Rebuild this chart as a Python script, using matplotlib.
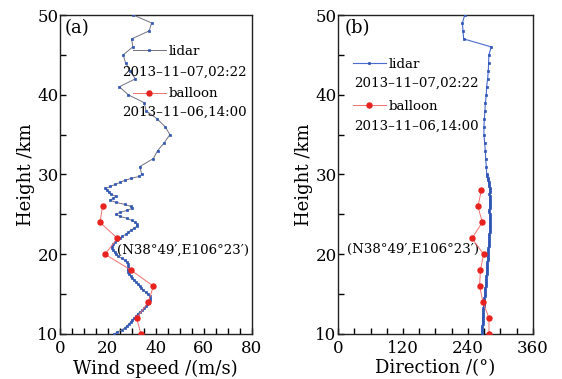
import numpy as np
import matplotlib
matplotlib.use("Agg")
import matplotlib.pyplot as plt
from matplotlib.ticker import MultipleLocator

plt.rcParams['font.family'] = ['DejaVu Serif', 'DejaVu Sans']
plt.rcParams['mathtext.fontset'] = 'dejavuserif'

# ---------------- data ----------------
# lidar, sparse part (km, m/s)
lidar_h_upper = [30, 31, 32, 33, 34, 35, 36, 37, 38, 39, 40, 41, 42, 43, 44, 45, 46, 47, 48, 49, 50]
lidar_ws_upper = [34.1, 33.4, 39.0, 40.8, 43.6, 45.9, 43.9, 40.5, 35.9, 35.2, 28.5, 24.8, 31.5, 29.2,
                  27.4, 26.4, 30.4, 29.9, 37.2, 38.3, 30.6]
lidar_dir_upper = [274.5, 273.8, 272.6, 272.0, 270.7, 269.4, 269.4, 270.2, 271.3, 272.0, 273.8, 274.4,
                   276.2, 277.5, 278.0, 278.6, 283.0, 232.0, 230.8, 229.6, 233.9]

# lidar, dense part 10 - 29.75 km every 0.25 km
lidar_h_lower = [10.0, 10.25, 10.5, 10.75, 11.0, 11.25, 11.5, 11.75, 12.0, 12.25, 12.5, 12.75,
                 13.0, 13.25, 13.5, 13.75, 14.0, 14.25, 14.5, 14.75, 15.0, 15.25, 15.5, 15.75,
                 16.0, 16.25, 16.5, 16.75, 17.0, 17.25, 17.5, 17.75, 18.0, 18.25, 18.5, 18.75,
                 19.0, 19.25, 19.5, 19.75, 20.0, 20.25, 20.5, 20.75, 21.0, 21.25, 21.5, 21.75,
                 22.0, 22.25, 22.5, 22.75, 23.0, 23.25, 23.5, 23.75, 24.0, 24.25, 24.5, 24.75,
                 25.0, 25.25, 25.5, 25.75, 26.0, 26.25, 26.5, 26.75, 27.0, 27.25, 27.5, 27.75,
                 28.0, 28.25, 28.5, 28.75, 29.0, 29.25, 29.5, 29.75]
lidar_ws_lower = [22.5, 24.0, 25.7, 27.0, 27.9, 28.8, 29.5, 30.2, 31.0, 31.9, 32.4, 33.4,
                  34.4, 35.2, 35.9, 36.4, 36.9, 37.4, 37.6, 37.4, 36.8, 35.8, 34.8, 34.0,
                  33.3, 32.6, 31.8, 31.0, 30.2, 29.6, 29.0, 28.5, 28.3, 28.3, 28.5, 28.5,
                  28.0, 27.0, 25.8, 24.4, 23.3, 22.8, 22.3, 21.8, 21.6, 22.3, 23.0, 24.0,
                  25.0, 26.0, 27.5, 28.5, 29.5, 31.0, 32.0, 32.0, 31.5, 30.0, 28.0, 25.0,
                  23.5, 25.0, 28.0, 30.0, 29.5, 27.0, 23.5, 21.0, 22.0, 23.5, 21.5, 20.5,
                  19.8, 19.0, 21.0, 23.0, 25.0, 27.0, 29.5, 33.0]
lidar_dir_lower = [265.5, 265.8, 266.0, 266.3, 266.5, 266.8, 267.0, 267.2, 267.4, 267.6, 267.8, 268.0,
                   268.2, 268.5, 268.8, 269.0, 269.3, 269.7, 270.1, 270.5, 270.8, 271.2, 271.6, 272.0,
                   272.4, 272.7, 273.0, 273.4, 273.7, 274.0, 274.3, 274.6, 274.9, 275.2, 275.4, 275.7,
                   276.0, 276.3, 276.5, 276.8, 277.0, 277.2, 277.5, 277.8, 278.0, 278.4, 278.8, 279.0,
                   279.3, 279.6, 279.4, 279.9, 280.2, 280.0, 279.7, 280.3, 280.5, 280.1, 279.8, 280.4,
                   280.6, 279.5, 278.9, 279.8, 280.2, 280.0, 279.8, 280.1, 280.3, 280.0, 279.6, 279.9,
                   280.1, 279.7, 279.2, 278.6, 278.0, 277.2, 276.3, 275.2]

lidar_h = lidar_h_lower + lidar_h_upper
lidar_ws = lidar_ws_lower + lidar_ws_upper
lidar_dir = lidar_dir_lower + lidar_dir_upper

# balloon
balloon_h_ws = [10, 12, 14, 16, 18, 20, 22, 24, 26]
balloon_ws = [33.8, 32.0, 36.9, 39.0, 29.7, 18.8, 24.0, 16.7, 17.8]
balloon_h_dir = [10, 12, 14, 16, 18, 20, 22, 24, 26, 28]
balloon_dir = [278.7, 278.7, 267.6, 261.5, 262.8, 268.9, 247.4, 266.4, 258.4, 264.6]

lidar_label = "lidar"
balloon_label = "balloon"
lidar_time = "2013\u201311\u201307,02:22"
balloon_time = "2013\u201311\u201306,14:00"
site = "(N38\u00b049\u2032,E106\u00b023\u2032)"

# ---------------- figure ----------------
W, H = 562, 379
fig = plt.figure(figsize=(W / 100, H / 100), dpi=100)
fig.patch.set_facecolor('white')

ax1 = fig.add_axes([60 / W, (H - 334) / H, 191.5 / W, 319 / H])
ax2 = fig.add_axes([338 / W, (H - 334) / H, 195 / W, 319 / H])

blue = '#2f55b5'
red = '#e8221e'
lred = '#f07070'

FS_TICK = 12
FS_LAB = 13
FS_TXT = 9.6

# left panel
ax1.plot(lidar_ws, lidar_h, '-', color='#707080', lw=0.7, marker='s', ms=2.1,
         mfc=blue, mec=blue, mew=0.5, label=lidar_label, zorder=3)
ax1.plot(balloon_ws, balloon_h_ws, '-', color=lred, lw=0.7, marker='o', ms=3.6,
         mfc=red, mec=red, label=balloon_label, zorder=4)
ax1.set_xlim(0, 80)
ax1.set_ylim(10, 50)
ax1.xaxis.set_major_locator(MultipleLocator(20))
ax1.xaxis.set_minor_locator(MultipleLocator(5))
ax1.set_xlabel("Wind speed /(m/s)", fontsize=FS_LAB, labelpad=2)

# right panel
ax2.plot(lidar_dir, lidar_h, '-', color='#4a6ad0', lw=0.8, marker='s', ms=2.1,
         mfc=blue, mec=blue, mew=0.5, label=lidar_label, zorder=3)
ax2.plot(balloon_dir, balloon_h_dir, '-', color=lred, lw=0.7, marker='o', ms=3.6,
         mfc=red, mec=red, label=balloon_label, zorder=4)
ax2.set_xlim(0, 360)
ax2.set_ylim(10, 50)
ax2.xaxis.set_major_locator(MultipleLocator(120))
ax2.xaxis.set_minor_locator(MultipleLocator(30))
ax2.set_xlabel("Direction /(\u00b0)", fontsize=FS_LAB, labelpad=2)

for ax in (ax1, ax2):
    ax.yaxis.set_major_locator(MultipleLocator(10))
    ax.yaxis.set_minor_locator(MultipleLocator(5))
    ax.set_ylabel("Height /km", fontsize=FS_LAB, labelpad=2)
    ax.tick_params(which='both', direction='in', length=4.5, width=1.0,
                   top=False, right=False, labelsize=FS_TICK)
    ax.tick_params(axis='x', pad=4)
    ax.tick_params(axis='y', pad=1)
    for s in ax.spines.values():
        s.set_linewidth(1.0)
        s.set_color('#222222')

# legends
leg1 = ax1.legend(loc='upper left', bbox_to_anchor=(0.38, 0.906), frameon=False,
                  fontsize=FS_TXT, handlelength=2.5, handletextpad=0.2,
                  labelspacing=2.2, borderpad=0, borderaxespad=0)
leg2 = ax2.legend(loc='upper left', bbox_to_anchor=(0.075, 0.866), frameon=False,
                  fontsize=FS_TXT, handlelength=2.5, handletextpad=0.2,
                  labelspacing=2.2, borderpad=0, borderaxespad=0)

ax1.text(0.327, 0.822, lidar_time, transform=ax1.transAxes, fontsize=FS_TXT, va='center')
ax1.text(0.327, 0.694, balloon_time, transform=ax1.transAxes, fontsize=FS_TXT, va='center')
ax2.text(0.082, 0.786, lidar_time, transform=ax2.transAxes, fontsize=FS_TXT, va='center')
ax2.text(0.082, 0.650, balloon_time, transform=ax2.transAxes, fontsize=FS_TXT, va='center')

ax1.text(0.026, 0.959, "(a)", transform=ax1.transAxes, fontsize=FS_LAB, va='center')
ax2.text(0.036, 0.959, "(b)", transform=ax2.transAxes, fontsize=FS_LAB, va='center')

ax1.text(0.30, 0.262, site, transform=ax1.transAxes, fontsize=FS_TXT, va='center')
ax2.text(0.045, 0.266, site, transform=ax2.transAxes, fontsize=FS_TXT, va='center')

fig.savefig("out.png", dpi=100, facecolor='white')
